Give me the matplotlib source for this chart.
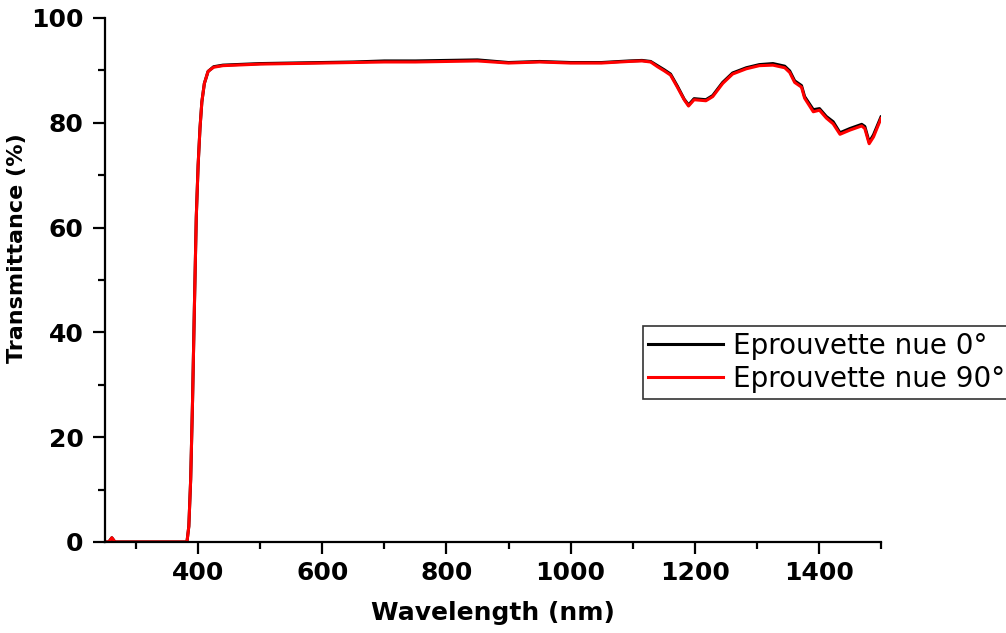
import numpy as np
import matplotlib
matplotlib.use('Agg')
import matplotlib.pyplot as plt
from matplotlib.ticker import MultipleLocator

plt.rcParams['font.family'] = ['DejaVu Sans']

# wavelength (nm)
wl = [250, 256, 261, 266, 300, 350, 382, 385, 388, 391, 394, 397, 400, 403, 406,
      410, 416, 425, 440, 460, 500, 550, 600, 650, 700, 750, 800, 850, 900, 950,
      1000, 1050, 1094, 1115, 1129, 1140, 1151, 1161, 1172, 1183, 1190, 1199, 1218,
      1229, 1245, 1261, 1283, 1304, 1326, 1345, 1353, 1361, 1372, 1377, 1391, 1401,
      1412, 1423, 1434, 1450, 1469, 1474, 1481, 1488, 1500]

# transmittance (%) - 0 deg
t0 = [0, 0, 0.8, 0, 0, 0, 0, 3, 12, 27, 45, 62, 72, 79, 84,
      87.5, 89.8, 90.7, 91.0, 91.1, 91.3, 91.4, 91.5, 91.6, 91.8, 91.8, 91.9, 92.0, 91.5, 91.7,
      91.5, 91.5, 91.8, 91.9, 91.7, 90.9, 90.1, 89.3, 87.0, 84.5, 83.4, 84.6, 84.4,
      85.2, 87.7, 89.5, 90.5, 91.1, 91.3, 90.8, 89.9, 88.0, 87.1, 85.0, 82.5, 82.7,
      81.2, 80.2, 78.1, 78.9, 79.7, 79.3, 76.3, 77.7, 81.1]

# transmittance (%) - 90 deg
t90 = [0, 0, 0.8, 0, 0, 0, 0, 3, 12, 27, 45, 62, 72, 79, 84,
       87.5, 89.8, 90.6, 90.9, 91.0, 91.2, 91.3, 91.4, 91.5, 91.6, 91.6, 91.7, 91.8, 91.4, 91.6,
       91.4, 91.4, 91.7, 91.8, 91.6, 90.7, 89.9, 89.1, 86.8, 84.4, 83.2, 84.4, 84.2,
       85.0, 87.5, 89.3, 90.3, 90.9, 91.0, 90.5, 89.6, 87.7, 86.8, 84.7, 82.1, 82.4,
       80.9, 79.8, 77.8, 78.6, 79.4, 78.9, 76.0, 77.3, 80.8]

labels = ['Eprouvette nue 0°', 'Eprouvette nue 90°']

fig = plt.figure(figsize=(10.06, 6.33), dpi=100)
ax = fig.add_axes([0.1044, 0.1438, 0.7713, 0.8278])

ax.plot(wl, t0, color='black', lw=2.2, label=labels[0])
ax.plot(wl, t90, color='#ff0000', lw=2.2, label=labels[1])

ax.set_xlim(250, 1500)
ax.set_ylim(0, 100)
ax.xaxis.set_major_locator(MultipleLocator(200))
ax.xaxis.set_minor_locator(MultipleLocator(100))
ax.yaxis.set_major_locator(MultipleLocator(20))
ax.yaxis.set_minor_locator(MultipleLocator(10))

for s in ['top', 'right']:
    ax.spines[s].set_visible(False)
for s in ['left', 'bottom']:
    ax.spines[s].set_linewidth(1.6)

ax.tick_params(which='major', direction='out', length=8.5, width=1.6, labelsize=18)
ax.tick_params(which='minor', direction='out', length=4.8, width=1.6)
ax.tick_params(axis='x', which='major', pad=5)
ax.tick_params(axis='y', which='major', pad=7)
for lab in ax.get_xticklabels() + ax.get_yticklabels():
    lab.set_fontweight('bold')

ax.set_xlabel('Wavelength (nm)', fontsize=18, fontweight='bold', labelpad=12)
ax.set_ylabel('Transmittance (%)', fontsize=16, fontweight='bold')
ax.yaxis.set_label_coords(-0.101, 0.561)

# legend sits against the right edge like the original
leg = ax.legend(loc='upper left', bbox_to_anchor=(0.639, 0.485),
                bbox_transform=fig.transFigure, fontsize=20, fancybox=False,
                handlelength=2.7, handletextpad=0.35, borderpad=0.2,
                labelspacing=0.2, borderaxespad=0, framealpha=1)
leg.get_frame().set_edgecolor('#333333')
leg.get_frame().set_linewidth(1.2)

fig.savefig('out.png', dpi=100)
